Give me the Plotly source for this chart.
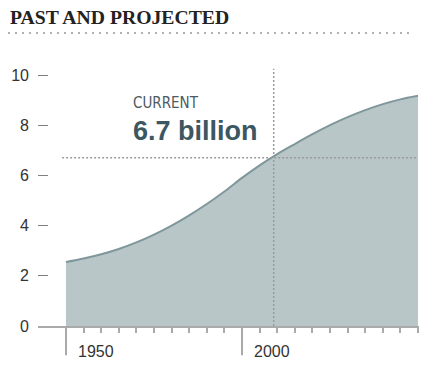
import plotly.graph_objects as go

# ---- data ----
years = [1950, 1955, 1960, 1965, 1970, 1975, 1980, 1985, 1990, 1995, 2000,
         2005, 2010, 2015, 2020, 2025, 2030, 2035, 2040, 2045, 2050]
population = [2.55, 2.69, 2.86, 3.07, 3.33, 3.64, 4.0, 4.41, 4.86, 5.36, 5.9,
              6.4, 6.85, 7.25, 7.64, 8.0, 8.32, 8.6, 8.84, 9.03, 9.17]
y_ticks = [0, 2, 4, 6, 8, 10]
minor_x_ticks = list(range(1950, 2051, 5))
major_x_ticks = [1950, 2000]
major_x_labels = ["1950", "2000"]
current_year = 2009
current_value = 6.7
title_text = "PAST AND PROJECTED"
current_label = "CURRENT"
current_text = "6.7 billion"

FILL = "#b8c6c8"
LINE = "#7f979b"
GRID = "#9a9a9a"
AXIS = "#aaaaaa"

L, R, T, B = 38, 21, 60, 48
pw = 440 - L - R
ph = 374 - T - B
px_per_year = 3.52

fig = go.Figure()
fig.add_trace(go.Scatter(
    x=years, y=population, mode="lines",
    line=dict(color=LINE, width=2, shape="spline", smoothing=0.8),
    fill="tozeroy", fillcolor=FILL, hoverinfo="skip", showlegend=False,
))

# current reference lines
fig.add_shape(type="line", xref="x", yref="y",
              x0=years[0] - 1.1, x1=years[-1], y0=current_value, y1=current_value,
              line=dict(color=GRID, width=1.5, dash="2px,2px"), layer="above")
fig.add_shape(type="line", xref="x", yref="y",
              x0=current_year, x1=current_year, y0=0, y1=10.25,
              line=dict(color=GRID, width=1.5, dash="2px,2px"), layer="above")

# long major ticks below the axis
for yr, lab in zip(major_x_ticks, major_x_labels):
    fig.add_shape(type="line", xref="x", yref="paper",
                  x0=yr, x1=yr, y0=0, y1=-0.11,
                  line=dict(color=AXIS, width=2), layer="above")
    fig.add_annotation(x=yr, y=-0.094, xref="x", yref="paper",
                       text=lab, showarrow=False, xanchor="left", yanchor="middle",
                       xshift=10,
                       font=dict(family="Liberation Sans, Arial", size=16, color="#333333"))

# annotation text
fig.add_annotation(x=1968.6, y=8.88, xref="x", yref="y", text=current_label,
                   showarrow=False, xanchor="left", yanchor="middle",
                   font=dict(family="Liberation Sans Narrow, DejaVu Sans Condensed, Arial Narrow, Arial",
                             size=15, color="#4d5a60"))
fig.add_annotation(x=1968.6, y=7.75, xref="x", yref="y", text="<b>" + current_text + "</b>",
                   showarrow=False, xanchor="left", yanchor="middle",
                   font=dict(family="Liberation Sans, Arial", size=27, color="#3c5761"))

# title + dotted rule under it
fig.add_annotation(x=(8 - L) / pw, y=(374 - B - 17) / ph, xref="paper", yref="paper",
                   text="<b>" + title_text + "</b>", showarrow=False,
                   xanchor="left", yanchor="middle",
                   font=dict(family="Liberation Serif, Times New Roman, serif",
                             size=19.7, color="#222222"))
fig.add_shape(type="line", xref="paper", yref="paper",
              x0=(8 - L) / pw, x1=(410 - L) / pw, y0=(374 - B - 33) / ph, y1=(374 - B - 33) / ph,
              line=dict(color="#b0b0b0", width=2, dash="2px,5px"))

fig.update_layout(
    width=440, height=374,
    margin=dict(l=L, r=R, t=T, b=B),
    paper_bgcolor="white", plot_bgcolor="white",
    xaxis=dict(range=[1950 - 28 / px_per_year, 2050 + 1 / px_per_year],
               showgrid=False, zeroline=False,
               showline=True, linecolor=AXIS, linewidth=2,
               tickmode="array", tickvals=minor_x_ticks, ticks="outside",
               ticklen=5, tickwidth=1.5, tickcolor=AXIS, showticklabels=False),
    yaxis=dict(range=[0, ph / 25.1], showgrid=False, zeroline=False,
               showline=False, tickmode="array", tickvals=y_ticks,
               ticks="inside", ticklen=10, tickwidth=1, tickcolor="#808080",
               ticklabelstandoff=8,
               tickfont=dict(family="Liberation Sans, Arial", size=16, color="#333333")),
    showlegend=False,
)

fig.write_html("out.html", config={"displayModeBar": False},
               post_script="document.body.style.margin='0';")
